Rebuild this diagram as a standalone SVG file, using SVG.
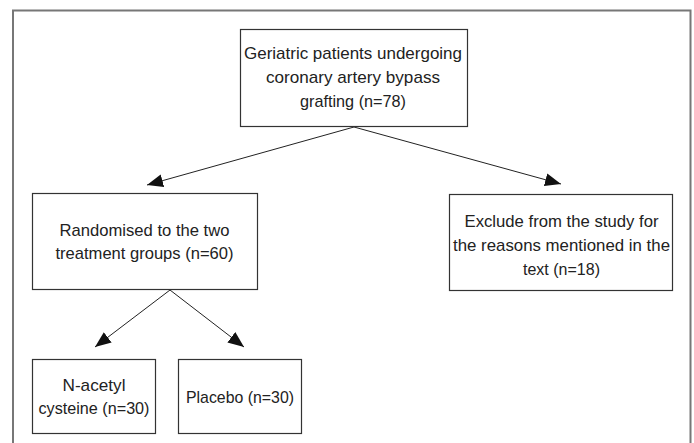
<svg xmlns="http://www.w3.org/2000/svg" width="694" height="443" viewBox="0 0 694 443">
<style>
.box{fill:#fff;stroke:#333;stroke-width:1.2}
.t{font-family:"Liberation Sans",Arial,sans-serif;font-size:17px;fill:#222;text-anchor:middle}
.c{stroke:#222;stroke-width:1;fill:none;marker-end:url(#ah)}
</style>
<defs>
<marker id="ah" markerUnits="userSpaceOnUse" markerWidth="18" markerHeight="14" refX="16" refY="7" orient="auto">
<path d="M0,0.5 L16,7 L0,13.5 Z" fill="#111"/>
</marker>
</defs>
<rect x="0" y="0" width="694" height="443" fill="#fff"/>
<path d="M13,450 V10.5 H690.5 V450" fill="none" stroke="#777" stroke-width="2"/>
<g id="connectors">
<line class="c" x1="354" y1="127" x2="147" y2="185"/>
<line class="c" x1="354" y1="127" x2="561" y2="184"/>
<line class="c" x1="170" y1="290" x2="95" y2="347"/>
<line class="c" x1="170" y1="290" x2="244" y2="347"/>
</g>
<g id="n1">
<rect class="box" x="240.5" y="29.5" width="227" height="97"/>
<text class="t" x="353" y="59" textLength="218" lengthAdjust="spacingAndGlyphs">Geriatric patients undergoing</text>
<text class="t" x="353" y="83" textLength="174" lengthAdjust="spacingAndGlyphs">coronary artery bypass</text>
<text class="t" x="353" y="107" textLength="106" lengthAdjust="spacingAndGlyphs">grafting (n=78)</text>
</g>
<g id="n2">
<rect class="box" x="32.5" y="193.5" width="225" height="96"/>
<text class="t" x="144.5" y="236" textLength="170" lengthAdjust="spacingAndGlyphs">Randomised to the two</text>
<text class="t" x="144.5" y="259" textLength="178" lengthAdjust="spacingAndGlyphs">treatment groups (n=60)</text>
</g>
<g id="n3">
<rect class="box" x="449.5" y="194.5" width="223" height="96"/>
<text class="t" x="561.5" y="227" textLength="194" lengthAdjust="spacingAndGlyphs">Exclude from the study for</text>
<text class="t" x="561.5" y="251" textLength="217" lengthAdjust="spacingAndGlyphs">the reasons mentioned in the</text>
<text class="t" x="561.5" y="275" textLength="77" lengthAdjust="spacingAndGlyphs">text (n=18)</text>
</g>
<g id="n4">
<rect class="box" x="32.5" y="359.5" width="123" height="74"/>
<text class="t" x="94" y="391" textLength="63" lengthAdjust="spacingAndGlyphs">N-acetyl</text>
<text class="t" x="94" y="414" textLength="111" lengthAdjust="spacingAndGlyphs">cysteine (n=30)</text>
</g>
<g id="n5">
<rect class="box" x="178.5" y="359.5" width="123" height="74"/>
<text class="t" x="240" y="403" textLength="108" lengthAdjust="spacingAndGlyphs">Placebo (n=30)</text>
</g>
</svg>
